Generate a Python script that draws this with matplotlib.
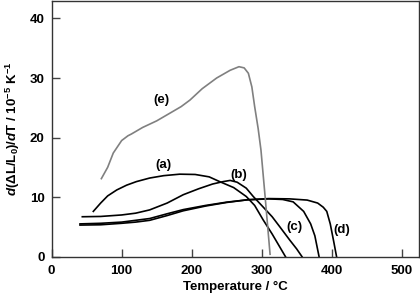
import matplotlib
matplotlib.use("Agg")
import matplotlib.pyplot as plt

# curve data (T in degC, dL/dT in 1e-5 K^-1)
a_T = [59.5, 70, 80, 93, 107, 121, 140, 160, 183, 205, 225, 240, 260, 278, 290, 302, 315, 325, 334]
a_y = [7.6, 9.0, 10.2, 11.2, 12.0, 12.6, 13.2, 13.6, 13.85, 13.8, 13.4, 12.6, 11.6, 10.1, 8.6, 6.2, 3.8, 1.8, 0]

b_T = [43.8, 70, 100, 120, 140, 165, 188, 210, 230, 245, 255, 265, 278, 288, 300, 315, 326, 340, 350, 357.6]
b_y = [6.7, 6.75, 7.0, 7.3, 7.85, 9.0, 10.4, 11.4, 12.2, 12.6, 12.8, 12.5, 11.5, 10.1, 8.6, 6.7, 5.0, 2.8, 1.3, 0]

c_T = [40.5, 70, 100, 120, 140, 165, 188, 220, 250, 280, 310, 330, 345, 360, 370, 376, 382]
c_y = [5.3, 5.35, 5.6, 5.8, 6.1, 6.9, 7.7, 8.5, 9.1, 9.55, 9.7, 9.6, 9.2, 7.6, 5.5, 3.5, 0]

d_T = [40.5, 70, 100, 120, 140, 165, 188, 220, 250, 280, 310, 340, 365, 380, 388, 393, 398, 403, 407]
d_y = [5.5, 5.6, 5.8, 6.1, 6.4, 7.2, 7.9, 8.6, 9.15, 9.55, 9.75, 9.7, 9.5, 9.0, 8.3, 7.6, 5.5, 2.5, 0]

e_T = [71, 80, 88, 100, 109, 114, 130, 150, 169, 185, 197.6, 215, 235.7, 255, 267.6, 275, 281, 286, 290, 295, 299, 305, 312]
e_y = [13.1, 15.0, 17.4, 19.5, 20.3, 20.6, 21.7, 22.8, 24.1, 25.2, 26.3, 28.2, 30.0, 31.3, 31.9, 31.7, 30.8, 28.5, 25.2, 21.5, 17.9, 10, 0.4]

labels = ["(a)", "(b)", "(c)", "(d)", "(e)"]
label_x = [159.5, 267.6, 346.6, 414, 157]
label_y = [15.4, 13.7, 5.0, 4.5, 26.3]

plt.rcParams['font.family'] = ['Liberation Sans', 'DejaVu Sans']
plt.rcParams['mathtext.fontset'] = 'custom'
plt.rcParams['mathtext.rm'] = 'Liberation Sans:bold'
plt.rcParams['mathtext.it'] = 'Liberation Sans:italic:bold'

fig = plt.figure(figsize=(4.2, 3.03), dpi=100)
ax = fig.add_axes([0.123, 0.153, 0.875, 0.845])

for T, y in [(a_T, a_y), (b_T, b_y), (c_T, c_y), (d_T, d_y)]:
    ax.plot(T, y, color='black', lw=1.2)
ax.plot(e_T, e_y, color='#808080', lw=1.2)

for lab, x, y in zip(labels, label_x, label_y):
    ax.text(x, y, lab, ha='center', va='center', fontsize=9.5, fontweight='bold')

ax.set_xlim(0, 525)
ax.set_ylim(0, 43)
ax.set_xticks([0, 100, 200, 300, 400, 500])
ax.set_yticks([0, 10, 20, 30, 40])
ax.tick_params(direction='in', length=6, width=1, labelsize=9.5, color='#444444')
ax.tick_params(axis='x', pad=6)
ax.tick_params(axis='y', pad=5)
for t in ax.get_xticklabels() + ax.get_yticklabels():
    t.set_fontweight('bold')
for s in ax.spines.values():
    s.set_color('#333333')
    s.set_linewidth(1)

ax.set_xlabel('Temperature / °C', fontsize=9.5, fontweight='bold', labelpad=3)
ax.set_ylabel(r'$d$(ΔL/L$_0$)/$d$T / 10$^{-5}$ K$^{-1}$', fontsize=9.5, fontweight='bold', labelpad=6)

fig.savefig('out.png', dpi=100)
